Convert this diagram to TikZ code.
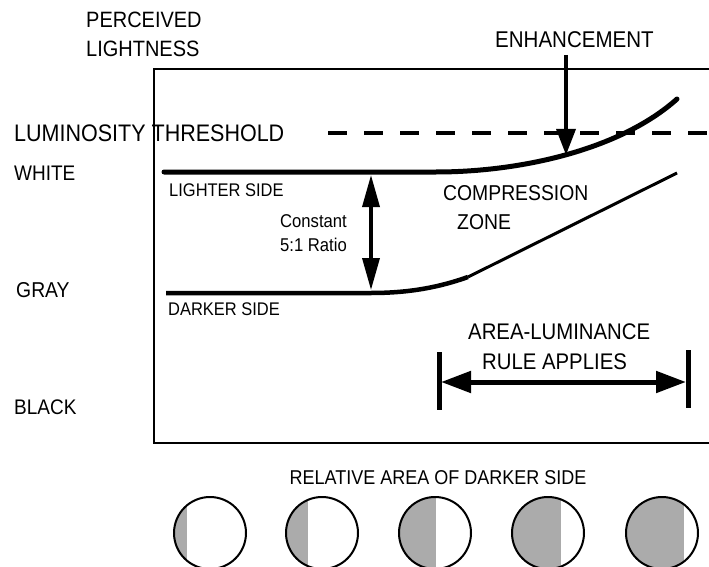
\documentclass[tikz,border=0pt]{standalone}
\usepackage{fontspec}
\setmainfont[FakeStretch=0.9]{Liberation Sans}
\usetikzlibrary{arrows.meta}

\tikzset{
    biglabel/.style={inner sep=0pt, anchor=west, font=\fontsize{22.2}{26}\selectfont},
    smalllabel/.style={inner sep=0pt, anchor=west, font=\fontsize{18.3}{22}\selectfont},
    areagray/.style={fill=black!33},
}

\begin{document}
\begin{tikzpicture}[x=1pt, y=-1pt]
    \useasboundingbox (0,0) rectangle (709,567);

    % Define the positions of the nodes
    \node[biglabel] (perceived) at (86,20) {PERCEIVED};
    \node[biglabel] (lightness) at (86,49) {LIGHTNESS};
    \node[biglabel, font=\fontsize{23.9}{26}\selectfont] (threshold) at (14,133) {LUMINOSITY THRESHOLD};
    \node[biglabel, font=\fontsize{21.1}{26}\selectfont] (white) at (14,173) {WHITE};
    \node[biglabel, font=\fontsize{21.5}{26}\selectfont] (gray) at (16,290) {GRAY};
    \node[biglabel, font=\fontsize{21.1}{26}\selectfont] (black) at (14,407) {BLACK};
    \node[biglabel, font=\fontsize{22.8}{26}\selectfont] (enhance) at (495,40) {ENHANCEMENT};

    \node[smalllabel] (lighter) at (169,190) {LIGHTER SIDE};
    \node[smalllabel] (darker) at (168,309) {DARKER SIDE};
    \node[smalllabel, anchor=east, font=\fontsize{18.5}{22}\selectfont] (constant) at (347,221) {Constant};
    \node[smalllabel, anchor=east, font=\fontsize{18.5}{22}\selectfont] (ratio) at (347,245) {5:1 Ratio};

    \node[biglabel, font=\fontsize{21.5}{26}\selectfont] (compression) at (443,193) {COMPRESSION};
    \node[biglabel, font=\fontsize{21.5}{26}\selectfont] (zone) at (457,222) {ZONE};
    \node[biglabel, font=\fontsize{22.6}{26}\selectfont] (arealum) at (468,332) {AREA-LUMINANCE};
    \node[biglabel, font=\fontsize{22.6}{26}\selectfont] (rule) at (482,362) {RULE APPLIES};
    \node[biglabel, anchor=center, font=\fontsize{20}{26}\selectfont] (relarea) at (438,478) {RELATIVE AREA OF DARKER SIDE};

    \coordinate (enhtop) at (566,55);
    \coordinate (enhtip) at (566,155);
    \coordinate (ratiotop) at (371,175);
    \coordinate (ratiobot) at (371,290);
    \coordinate (ruleleft) at (441,382);
    \coordinate (ruleright) at (686,382);

    % frame and threshold
    \draw[line width=1.5pt] (154,69) rectangle (711,443);
    \draw[line width=4pt, dash pattern=on 19pt off 17pt] (328,133) -- (709,133);

    % the two sides
    \draw[line width=5pt, line cap=round] (164,172) -- (436,172) .. controls (520,172) and (620,150) .. (677,99);
    \draw[line width=4.5pt] (166,293) -- (371,293) .. controls (410,293) and (440,287) .. (468,277);
    \draw[line width=3pt] (468,277) -- (677,173);

    % Draw the arrows
    \draw[-{Triangle[length=26pt,width=19pt]}, line width=3.5pt] (enhtop) -- (enhtip);
    \draw[{Triangle[length=32pt,width=17pt]}-{Triangle[length=32pt,width=17pt]}, line width=3.5pt] (ratiotop) -- (ratiobot);
    \draw[line width=5pt] (439,352) -- (439,410);
    \draw[line width=5pt] (688,350) -- (688,408);
    \draw[{Triangle[length=30pt,width=21pt]}-{Triangle[length=30pt,width=21pt]}, line width=5pt] (ruleleft) -- (ruleright);

    % circles
    \foreach \cx/\edge in {210/-23.5, 322/-14, 435/1, 548/13, 662/22} {
        \begin{scope}
            \clip (\cx,533) circle[radius=36pt];
            \fill[areagray] ({\cx-40},490) rectangle ({\cx+(\edge)},580);
        \end{scope}
        \draw[line width=2pt] (\cx,533) circle[radius=36pt];
    }
\end{tikzpicture}
\end{document}
